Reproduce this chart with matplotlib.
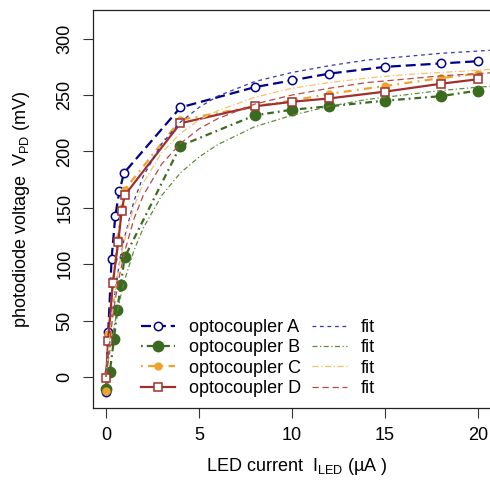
import matplotlib
matplotlib.use("Agg")
import matplotlib.pyplot as plt

plt.rcParams['font.family'] = ['Liberation Sans', 'DejaVu Sans']

# measured points (LED current in uA, photodiode voltage in mV)
x_a = [0, 0.12, 0.3, 0.5, 0.72, 0.97, 4, 8, 10, 12, 15, 18, 20]
v_a = [-13, 40, 105, 143, 165, 181, 239, 257, 263, 269, 275, 278, 280]
x_b = [0, 0.2, 0.43, 0.6, 0.8, 1.0, 4, 8, 10, 12, 15, 18, 20]
v_b = [-11, 4, 34, 59, 82, 106, 205, 232, 237, 240, 245, 249, 254]
x_c = [0, 0.12, 0.4, 0.62, 0.84, 1.0, 4, 8, 10, 12, 15, 18, 20]
v_c = [-12, 38, 85, 122, 150, 166, 228, 240, 245, 251, 258, 265, 269]
x_d = [0, 0.12, 0.36, 0.66, 0.84, 1.0, 4, 8, 10, 12, 15, 18, 20]
v_d = [-1, 32, 83, 120, 147, 161, 225, 240, 244, 247, 253, 260, 264]

# fit curves
x_fit = [0, 0.25, 0.5, 0.75, 1, 1.5, 2, 3, 4, 5, 6, 8, 10, 12, 14, 16, 18, 20, 21]
fit_a = [0, 44, 78, 104, 124, 156, 178, 207, 226, 239, 249, 262, 270, 276, 281, 284, 287, 289, 290]
fit_b = [0, 28, 50, 69, 86, 112, 132, 161, 181, 195, 206, 222, 232, 240, 246, 250, 254, 257, 258]
fit_c = [0, 44, 77, 102, 122, 151, 172, 199, 216, 228, 236, 248, 256, 261, 265, 268, 270, 272, 273]
fit_d = [0, 39, 69, 92, 111, 140, 161, 189, 207, 220, 229, 242, 250, 256, 261, 264, 267, 269, 270]

col_a, col_b, col_c, col_d = '#00008B', '#3B6B1E', '#EFA22E', '#A0302E'

fig = plt.figure(figsize=(4.9, 4.82), dpi=100)
ax = fig.add_axes([93 / 490, 74 / 482, 407 / 490, 398 / 482])

ax.plot(x_a, v_a, color=col_a, lw=1.6, dashes=(4.5, 2.2), marker='o', ms=6,
        mfc='white', mec=col_a, mew=1.1, label='optocoupler A')
ax.plot(x_b, v_b, color=col_b, lw=1.6, dashes=(0.8, 1.8, 3.0, 1.8), marker='o', ms=7.5,
        mfc=col_b, mec=col_b, label='optocoupler B')
ax.plot(x_c, v_c, color=col_c, lw=1.6, dashes=(0.8, 2.4, 3.6, 2.4), marker='o', ms=5,
        mfc=col_c, mec=col_c, label='optocoupler C')
ax.plot(x_d, v_d, color=col_d, lw=1.6, ls='-', marker='s', ms=5.5,
        mfc='white', mec=col_d, mew=1.1, label='optocoupler D')

ax.plot(x_fit, fit_a, color='#3535B0', lw=0.9, dashes=(3, 3), label='fit')
ax.plot(x_fit, fit_b, color='#5E8A40', lw=0.9, dashes=(4, 2, 1, 2), label='fit')
ax.plot(x_fit, fit_c, color='#F4C36A', lw=0.9, dashes=(5, 2, 1, 2), label='fit')
ax.plot(x_fit, fit_d, color='#B84A48', lw=0.9, dashes=(5, 3), label='fit')

ax.set_xlim(-0.7, (500 - 106) / 18.6)
ax.set_ylim(-27.5, 325.4)
ax.set_xticks([0, 5, 10, 15, 20])
ax.set_yticks([0, 50, 100, 150, 200, 250, 300])
ax.tick_params(direction='out', length=7, width=0.8, labelsize=13, pad=7,
               color='#333333')
for lab in ax.get_yticklabels():
    lab.set_rotation(90)
    lab.set_va('center')
for sp in ax.spines.values():
    sp.set_linewidth(0.9)
    sp.set_color('#222222')

ax.set_xlabel('LED current  I$_\\mathregular{LED}$ (\u00b5A )', fontsize=13, labelpad=8)
ax.set_ylabel('photodiode voltage  V$_\\mathregular{PD}$ (mV)', fontsize=13, labelpad=18)

ax.legend(ncol=2, loc='center', bbox_to_anchor=(258 / 490, 1 - 358 / 482),
          bbox_transform=fig.transFigure, frameon=False, fontsize=13,
          handlelength=1.9, handletextpad=0.8, columnspacing=0.6,
          labelspacing=0.18, borderpad=0)

fig.savefig('out.png', dpi=100)
